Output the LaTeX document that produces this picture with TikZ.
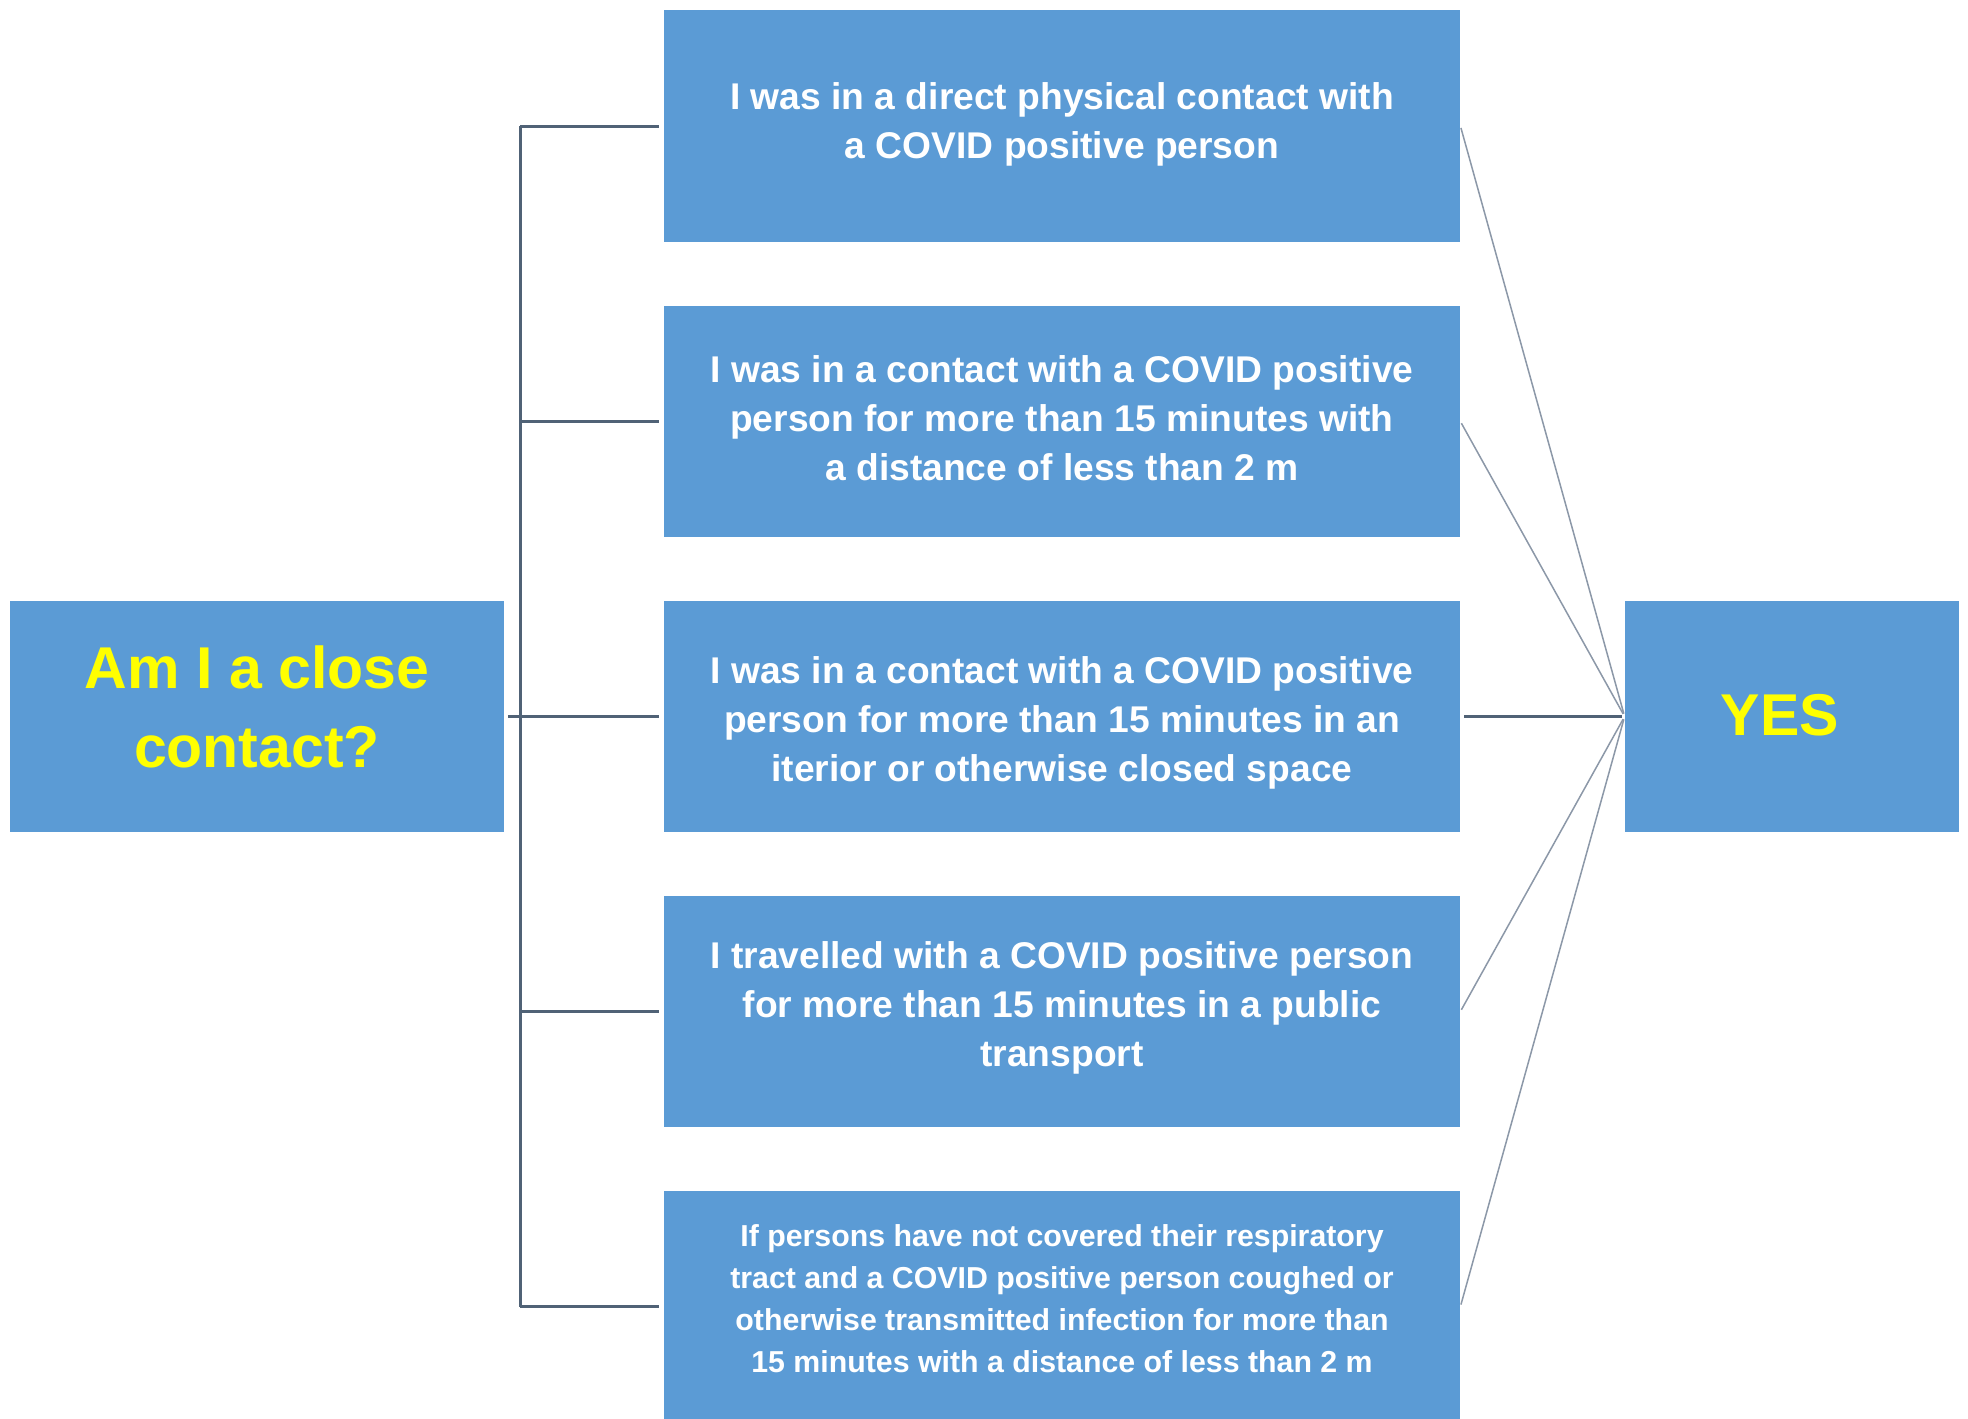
\documentclass[tikz,border=0pt]{standalone}
\usepackage{fontspec}
\setmainfont{Liberation Sans}
\definecolor{boxblue}{HTML}{5B9BD5}
\definecolor{busline}{HTML}{506276}
\definecolor{thinline}{HTML}{8C98A8}
\definecolor{qyellow}{HTML}{FFFF00}
% text block of a box, raised by #1 without changing the box extents
\newcommand{\boxtxt}[2]{\raisebox{#1}[\height][\depth]{\begin{tabular}{@{}c@{}}#2\end{tabular}}}
\tikzset{
  midbox/.style={fill=boxblue, draw=none, minimum width=398pt, minimum height=115.5pt,
    inner sep=0pt, text=white, font=\bfseries\fontsize{18.6}{24.5}\selectfont},
  smallbox/.style={midbox, font=\bfseries\fontsize{15.15}{21.15}\selectfont},
  bigbox/.style={fill=boxblue, draw=none, minimum height=115.5pt, inner sep=0pt,
    text=qyellow, font=\bfseries\fontsize{29.5}{39.5}\selectfont},
  bus/.style={draw=busline, line width=1.5pt},
  thin/.style={draw=thinline, line width=0.75pt}
}
\begin{document}
\begin{tikzpicture}[x=0.5pt, y=-0.5pt]
\useasboundingbox (0,0) rectangle (1968,1418);
\fill[white] (0,0) rectangle (1968,1418);
\node[bigbox, minimum width=247pt] (q) at (257,716.5) {\boxtxt{2.4pt}{Am I a close\\contact?}};
\node[bigbox, minimum width=167pt] (yes) at (1792,716.5) {\raisebox{0.75pt}[\height][\depth]{YES}\kern12.3pt};
\node[midbox] (b1) at (1062,126) {\boxtxt{0.65pt}{I was in a direct physical contact with\\a COVID positive person}};
\node[midbox] (b2) at (1062,421.5) {\boxtxt{0pt}{I was in a contact with a COVID positive\\person for more than 15 minutes with\\a distance of less than 2 m}};
\node[midbox] (b3) at (1062,716.5) {\boxtxt{-3.1pt}{I was in a contact with a COVID positive\\person for more than 15 minutes in an\\iterior or otherwise closed space}};
\node[midbox] (b4) at (1062,1011.5) {\boxtxt{2pt}{I travelled with a COVID positive person\\for more than 15 minutes in a public\\transport}};
\node[smallbox] (b5) at (1062,1306.5) {\boxtxt{2.75pt}{If persons have not covered their respiratory\\tract and a COVID positive person coughed or\\otherwise transmitted infection for more than\\15 minutes with a distance of less than 2 m}};
\coordinate (j) at (520,716.5);
% bus
\draw[bus] (j |- b1.west) -- (j |- b5.west);
\draw[bus, shorten <=2pt] (q.east) -- (j);
\foreach \b in {b1,b2,b3,b4,b5}{
  \draw[bus, shorten >=2.5pt] (j |- \b.west) -- (\b.west);
}
% right side
\draw[bus, shorten <=2pt, shorten >=1.5pt] (b3.east) -- (yes.west);
\foreach \b in {b1,b2,b4,b5}{
  \draw[thin, shorten <=1pt, shorten >=1.5pt] (\b.east) -- (yes.west);
}
\end{tikzpicture}
\end{document}
